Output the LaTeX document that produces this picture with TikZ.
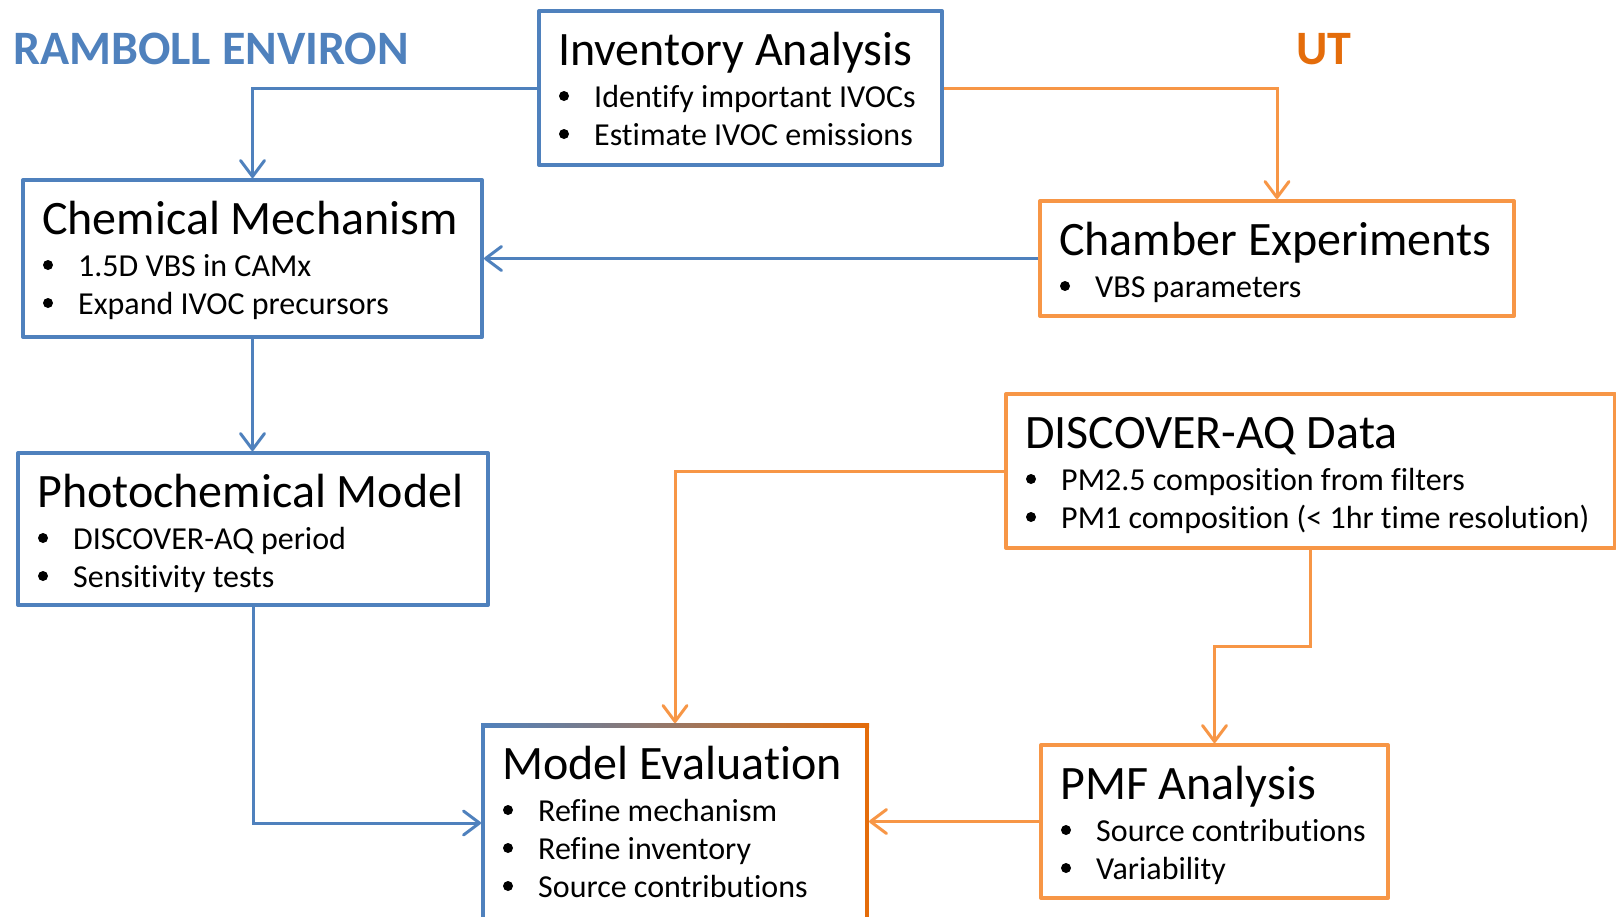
\documentclass[tikz,border=0pt]{standalone}
\usepackage{fontspec}
\setmainfont{Carlito}[Ligatures={NoCommon}]
\usetikzlibrary{arrows.meta,calc}
\definecolor{rblue}{HTML}{4F81BD}
\definecolor{rorange}{HTML}{F79646}
\definecolor{rdark}{HTML}{E46C0A}
\definecolor{rlight}{HTML}{C6D9F1}
\newcommand\boxtitle[2]{\node[ttl] (#1-t) at ($(#1.north west)+(21,56)$) {#2};}
\newcommand\boxitem[3]{%
  \node[itm] (#1-#2) at ($(#1.north west)+(57,98+38*#2)$) {#3};
  \node[bdot] (#1-#2d) at ($(#1.north west)+(27,87+38*#2)$) {};}
\begin{document}
\begin{tikzpicture}[x=1pt,y=-1pt,
  box/.style={draw, line width=4pt, inner sep=0pt, anchor=north west, line join=round},
  bbox/.style={box, draw=rblue},
  obox/.style={box, draw=rorange},
  ttl/.style={anchor=base west, inner sep=0pt, font=\fontsize{48}{58}\selectfont},
  itm/.style={anchor=base west, inner sep=0pt, font=\fontsize{32}{38}\selectfont},
  hdr/.style={anchor=base west, inner sep=0pt, font=\fontsize{48}{58}\selectfont\bfseries},
  conn/.style={line width=3pt, -{Straight Barb[length=16pt,width=24pt,round]}},
  bconn/.style={conn, draw=rblue},
  oconn/.style={conn, draw=rorange},
  bdot/.style={circle, fill=black, inner sep=0pt, minimum size=10pt},
]
\useasboundingbox (0,0) rectangle (1616,916);
\clip (0,0) rectangle (1616,916);

% headers
\node[hdr, text=rblue] (re) at (13,64) {RAMBOLL ENVIRON};
\node[hdr, text=rdark] (ut) at (1296,64) {UT};

% boxes
\node[bbox, minimum width=403pt, minimum height=154pt] (inv) at (537,9) {};
\node[bbox, minimum width=459pt, minimum height=157pt] (chem) at (21,178) {};
\node[obox, minimum width=474pt, minimum height=115pt] (ch) at (1038,199) {};
\node[bbox, minimum width=470pt, minimum height=152pt] (photo) at (16,451) {};
\node[obox, minimum width=609pt, minimum height=154pt] (disc) at (1004,392) {};
\node[obox, minimum width=347pt, minimum height=153pt] (pmf) at (1039,743) {};
\node[box, draw=none, minimum width=384pt, minimum height=196pt] (me) at (481,723) {};

% model evaluation border (blue to orange)
\fill[rblue] (me.north west) rectangle ([xshift=4pt]me.south west);
\fill[rdark] ([xshift=-4pt]me.north east) rectangle (me.south east);
\shade[left color=rblue, middle color=rlight, right color=rdark]
  (me.north west) rectangle ([yshift=-4pt]me.north east);

% contents
\boxtitle{inv}{Inventory Analysis}
\boxitem{inv}{0}{Identify important IVOCs}
\boxitem{inv}{1}{Estimate IVOC emissions}

\boxtitle{chem}{Chemical Mechanism}
\boxitem{chem}{0}{1.5D VBS in CAMx}
\boxitem{chem}{1}{Expand IVOC precursors}

\boxtitle{ch}{Chamber Experiments}
\boxitem{ch}{0}{VBS parameters}

\boxtitle{photo}{Photochemical Model}
\boxitem{photo}{0}{DISCOVER-AQ period}
\boxitem{photo}{1}{Sensitivity tests}

\boxtitle{disc}{DISCOVER-AQ Data}
\boxitem{disc}{0}{PM2.5 composition from filters}
\boxitem{disc}{1}{PM1 composition (< 1hr time resolution)}

\boxtitle{pmf}{PMF Analysis}
\boxitem{pmf}{0}{Source contributions}
\boxitem{pmf}{1}{Variability}

\boxtitle{me}{Model Evaluation}
\boxitem{me}{0}{Refine mechanism}
\boxitem{me}{1}{Refine inventory}
\boxitem{me}{2}{Source contributions}

% connectors
\draw[bconn] (inv.west) -| (chem.north);
\draw[oconn] (inv.east) -| (ch.north);
\draw[bconn] (ch.west) -- (ch.west -| chem.east);
\draw[bconn] (chem.south) -- (chem.south |- photo.north);
\draw[bconn] (photo.south) |- (me.west);
\draw[oconn] (disc.west) -| (me.north);
\coordinate (mid) at ($(disc.south)!0.5!(pmf.north)$);
\draw[oconn] (disc.south) -- (disc.south |- mid) -| (pmf.north);
\draw[oconn] (pmf.west) -- (pmf.west -| me.east);
\end{tikzpicture}
\end{document}
